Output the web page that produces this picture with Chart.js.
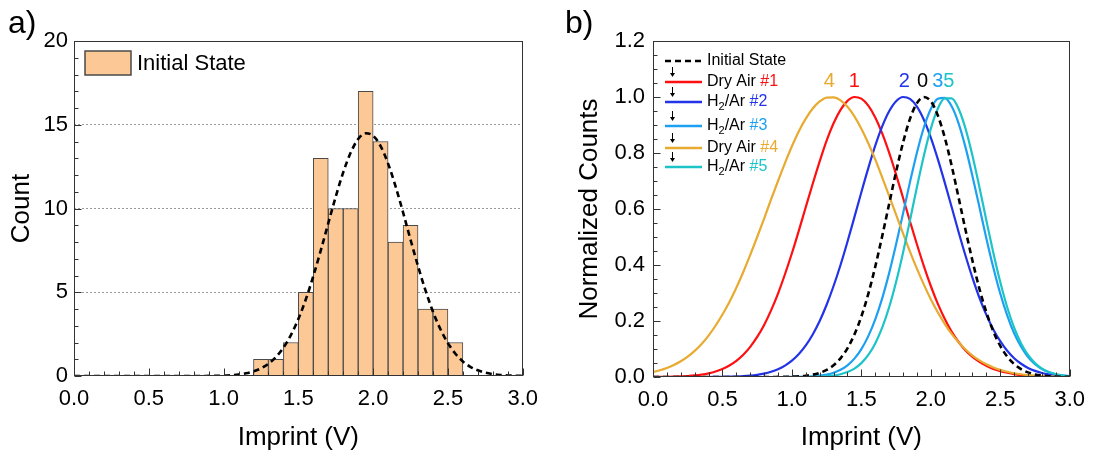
<!DOCTYPE html>
<html><head><meta charset="utf-8">
<script src="https://cdn.jsdelivr.net/npm/chart.js@4.4.1/dist/chart.umd.min.js"></script>
<style>
html,body{margin:0;padding:0;background:#fff;width:1095px;height:460px;overflow:hidden;font-family:'Liberation Sans',Arial,sans-serif;}
#wa{position:absolute;left:0;top:0;width:548px;height:460px;}
#wb{position:absolute;left:548px;top:0;width:547px;height:460px;}
.pl{position:absolute;font-size:32px;color:#000;line-height:1;}
</style></head><body>
<div id="wa"><canvas id="ca" width="548" height="460"></canvas></div>
<div id="wb"><canvas id="cb" width="547" height="460"></canvas></div>
<div class="pl" style="left:8px;top:6px">a)</div>
<div class="pl" style="left:565px;top:6px">b)</div>
<script>
// ---------- data ----------
const binCenters = [1.25,1.35,1.45,1.55,1.65,1.75,1.85,1.95,2.05,2.15,2.25,2.35,2.45,2.55];
const counts     = [1,1,2,5,13,10,10,17,14,8,9,4,4,2];

const voltages = [0,0.05,0.1,0.15,0.2,0.25,0.3,0.35,0.4,0.45,0.5,0.55,0.6,0.65,0.7,0.75,0.8,0.85,0.9,0.95,
  1,1.05,1.1,1.15,1.2,1.25,1.3,1.35,1.4,1.45,1.5,1.55,1.6,1.65,1.7,1.75,1.8,1.85,1.9,1.95,
  2,2.05,2.1,2.15,2.2,2.25,2.3,2.35,2.4,2.45,2.5,2.55,2.6,2.65,2.7,2.75,2.8,2.85,2.9,2.95,3];

const fitCounts = [0,0,0,0,0,0,0,0,0,0,0,0,0,0,0,0,0,0,0.007,0.013,
  0.026,0.05,0.091,0.161,0.276,0.457,0.731,1.13,1.69,2.44,3.40,4.58,5.96,7.50,9.12,10.71,12.16,13.34,14.15,14.49,
  14.34,13.72,12.68,11.32,9.77,8.14,6.56,5.11,3.84,2.79,1.96,1.33,0.87,0.55,0.34,0.20,0.115,0.063,0.034,0.017,0.009];

const initialState = [0,0,0,0,0,0,0,0,0,0,0,0,0,0,0,0,0,0,0.0003,0.0006,
  0.0012,0.0023,0.0045,0.0083,0.0148,0.0253,0.0419,0.0667,0.1025,0.152,0.216,0.297,0.394,0.503,0.618,0.733,0.837,0.922,0.978,1.0,
  0.985,0.935,0.856,0.755,0.641,0.525,0.415,0.315,0.231,0.163,0.111,0.073,0.046,0.028,0.0165,0.0093,0.0051,0.0027,0.0014,0.0007,0.0003];

const dryAir1 = [0.0003,0.0005,0.0008,0.0013,0.0022,0.0035,0.0056,0.0086,0.0131,0.0195,0.0286,0.041,0.0577,0.0796,0.1077,0.143,0.186,0.238,0.298,0.367,
  0.442,0.523,0.607,0.69,0.77,0.844,0.906,0.954,0.986,1.0,0.994,0.969,0.927,0.87,0.801,0.723,0.64,0.556,0.474,0.396,
  0.325,0.262,0.208,0.162,0.125,0.095,0.072,0.054,0.040,0.029,0.021,0.015,0.010,0.0068,0.0045,0.003,0.002,0.0012,0.0008,0.0005,0.0003];

const h2Ar2 = [0,0,0,0,0,0,0,0,0,0.0003,0.0006,0.001,0.0018,0.003,0.0049,0.0078,0.0121,0.0186,0.0278,0.0408,
  0.0585,0.0822,0.113,0.152,0.2,0.258,0.325,0.4,0.483,0.571,0.66,0.746,0.826,0.895,0.949,0.985,1.0,0.993,0.966,0.919,
  0.855,0.779,0.695,0.607,0.518,0.433,0.354,0.283,0.222,0.17,0.128,0.0937,0.0672,0.0473,0.0325,0.0219,0.0144,0.0093,0.0059,0.0036,0.0022];

const h2Ar3 = [0,0,0,0,0,0,0,0,0,0,0,0,0,0,0,0,0,0,0,0,
  0.0003,0.0007,0.0014,0.0027,0.0049,0.0089,0.0154,0.0259,0.0419,0.0657,0.0995,0.146,0.206,0.281,0.371,0.474,0.584,0.696,0.801,0.891,
  0.957,0.994,0.997,0.967,0.906,0.82,0.717,0.607,0.495,0.391,0.298,0.22,0.156,0.108,0.0716,0.046,0.0286,0.0171,0.0099,0.0056,0.003];

const dryAir4 = [0.0175,0.0239,0.0321,0.0427,0.0561,0.0729,0.0934,0.118,0.148,0.183,0.223,0.268,0.319,0.375,0.436,0.5,0.566,0.634,0.7,0.764,
  0.824,0.878,0.923,0.959,0.984,0.998,0.999,0.988,0.965,0.931,0.887,0.835,0.777,0.713,0.647,0.58,0.513,0.448,0.387,0.33,
  0.278,0.231,0.19,0.154,0.124,0.098,0.0766,0.0592,0.0452,0.034,0.0253,0.0186,0.0135,0.0097,0.0069,0.0048,0.0033,0.0023,0.0015,0.001,0.0007];

const h2Ar5 = [0,0,0,0,0,0,0,0,0,0,0,0,0,0,0,0,0,0,0,0,
  0,0,0,0.0007,0.0014,0.0028,0.0053,0.0099,0.0176,0.0301,0.0496,0.0787,0.12,0.176,0.249,0.339,0.444,0.559,0.678,0.79,
  0.887,0.958,0.995,0.995,0.958,0.887,0.79,0.678,0.559,0.444,0.339,0.249,0.176,0.12,0.0787,0.0496,0.0301,0.0176,0.0099,0.0053,0.0028];

const seriesNames = ['Initial State','Dry Air','H2/Ar','H2/Ar','Dry Air','H2/Ar'];
const seriesTags  = ['','#1','#2','#3','#4','#5'];
const peakLabels  = ['0','1','2','3','4','5'];
const peakLabelX  = [1.94,1.45,1.81,2.05,1.27,2.13];
const histLegend  = 'Initial State';
const xTickLabels = ['0.0','0.5','1.0','1.5','2.0','2.5','3.0'];

// ---------- styling ----------
const F = "'Liberation Sans', Arial, sans-serif";
Chart.defaults.font.family = F;
Chart.defaults.color = '#000';
const seriesColors = ['#000000','#FF1010','#2233E8','#1EA0F2','#E8AA30','#1CC4C8'];
const AX = '#333333';

function pts(arr){ return voltages.map((v,i)=>({x:v,y:arr[i]})); }

function drawFrameTicks(chart, xMinor, xMajor, yMinor, yMajor){
  const {ctx, chartArea:a, scales:{x,y}} = chart;
  ctx.save();
  ctx.strokeStyle = AX; ctx.lineWidth = 1;
  const L = Math.round(a.left)+0.5, R = Math.round(a.right)-0.5, T = Math.round(a.top)+0.5, B = Math.round(a.bottom)-0.5;
  ctx.strokeRect(L, T, R-L, B-T);
  ctx.beginPath();
  let n = Math.round((x.max-x.min)/xMinor);
  for(let i=0;i<=n;i++){
    const v = x.min + i*xMinor;
    const r = v/xMajor; const maj = Math.abs(r-Math.round(r))<1e-6;
    const px = Math.round(x.getPixelForValue(v))+0.5;
    ctx.moveTo(px, B); ctx.lineTo(px, B-(maj?7:4));
  }
  n = Math.round((y.max-y.min)/yMinor);
  for(let i=0;i<=n;i++){
    const v = y.min + i*yMinor;
    const r = v/yMajor; const maj = Math.abs(r-Math.round(r))<1e-6;
    const py = Math.round(y.getPixelForValue(v))+0.5;
    ctx.moveTo(L, py); ctx.lineTo(L+(maj?7:4), py);
  }
  ctx.stroke();
  ctx.restore();
}

function drawRich(ctx, x, y, text, size){
  const m = text.match(/^H2(.*)$/);
  ctx.font = size+'px '+F;
  if(!m){ ctx.fillText(text, x, y); return x + ctx.measureText(text).width; }
  ctx.fillText('H', x, y); x += ctx.measureText('H').width;
  ctx.font = Math.round(size*0.68)+'px '+F;
  ctx.fillText('2', x, y+size*0.3); x += ctx.measureText('2').width;
  ctx.font = size+'px '+F;
  ctx.fillText(m[1], x, y); return x + ctx.measureText(m[1]).width;
}

// ---------- chart a ----------
new Chart(document.getElementById('ca'), {
  type:'bar',
  data:{datasets:[
    {type:'line', label:'fit', data:pts(fitCounts), borderColor:'#000', borderWidth:2.6, borderDash:[6,4],
     pointRadius:0, tension:0.4, cubicInterpolationMode:'monotone', order:0},
    {type:'bar', label:histLegend, data:binCenters.map((c,i)=>({x:c,y:counts[i]})),
     backgroundColor:'#FBC896', borderColor:'#4a4a4a', borderWidth:1, barPercentage:1, categoryPercentage:1, order:1}
  ]},
  options:{
    responsive:false, animation:false, events:[],
    layout:{padding:{left:0,top:41,right:21,bottom:0}},
    plugins:{legend:{display:false}, tooltip:{enabled:false}},
    scales:{
      x:{type:'linear', min:0, max:3, offset:false,
        ticks:{stepSize:0.5, autoSkip:false, maxRotation:0, padding:10, font:{size:22}, color:'#000',
               callback:(v)=>{const i=Math.round(v/0.5); return Math.abs(v-i*0.5)<1e-6 ? xTickLabels[i] : '';}},
        grid:{display:false, drawTicks:false}, border:{display:false},
        title:{display:true, text:'Imprint (V)', font:{size:26}, color:'#000', padding:{top:0,bottom:7}},
        afterFit(s){ s.height = 84; }},
      y:{type:'linear', min:0, max:20,
        ticks:{stepSize:5, padding:6, font:{size:22}, color:'#000'},
        grid:{drawTicks:false, lineWidth:1, color:(c)=> (c.tick && c.tick.value>0 && c.tick.value<20) ? '#9a9a9a' : 'rgba(0,0,0,0)'},
        border:{display:false, dash:[2,2]},
        title:{display:true, text:'Count', font:{size:26}, color:'#000', padding:{top:6}},
        afterFit(s){ s.width = 74; }}
    }
  },
  plugins:[{id:'decorA', afterDatasetsDraw(chart){
    drawFrameTicks(chart, 0.1, 0.5, 1, 5);
    const ctx = chart.ctx; ctx.save();
    ctx.fillStyle = '#FBC896'; ctx.strokeStyle = '#4a4a4a'; ctx.lineWidth = 1.5;
    ctx.fillRect(85,51,46,24); ctx.strokeRect(85,51,46,24);
    ctx.fillStyle = '#000'; ctx.textBaseline = 'middle';
    ctx.font = '22px '+F; ctx.fillText(histLegend, 137, 64);
    ctx.restore();
  }}]
});

// ---------- chart b ----------
const curves = [initialState, dryAir1, h2Ar2, h2Ar3, dryAir4, h2Ar5];
new Chart(document.getElementById('cb'), {
  type:'line',
  data:{datasets: curves.map((arr,i)=>({
    label: seriesNames[i]+' '+seriesTags[i], data: pts(arr), borderColor: seriesColors[i],
    borderWidth: i===0 ? 2.6 : 2.2, borderDash: i===0 ? [6,4] : [],
    pointRadius:0, tension:0.4, cubicInterpolationMode:'monotone', fill:false, order: i===0 ? 0 : 7-i
  }))},
  options:{
    responsive:false, animation:false, events:[],
    layout:{padding:{left:0,top:41,right:23,bottom:0}},
    plugins:{legend:{display:false}, tooltip:{enabled:false}},
    scales:{
      x:{type:'linear', min:0, max:3,
        ticks:{stepSize:0.5, autoSkip:false, maxRotation:0, padding:10, font:{size:22}, color:'#000',
               callback:(v)=>{const i=Math.round(v/0.5); return Math.abs(v-i*0.5)<1e-6 ? xTickLabels[i] : '';}},
        grid:{display:false, drawTicks:false}, border:{display:false},
        title:{display:true, text:'Imprint (V)', font:{size:26}, color:'#000', padding:{top:0,bottom:7}},
        afterFit(s){ s.height = 83; }},
      y:{type:'linear', min:0, max:1.2,
        ticks:{stepSize:0.2, padding:8, font:{size:22}, color:'#000', callback:(v)=>Number(v).toFixed(1)},
        grid:{display:false, drawTicks:false}, border:{display:false},
        title:{display:true, text:'Normalized Counts', font:{size:26}, color:'#000', padding:{top:26}},
        afterFit(s){ s.width = 105; }}
    }
  },
  plugins:[{id:'decorB', afterDatasetsDraw(chart){
    drawFrameTicks(chart, 0.1, 0.5, 0.05, 0.2);
    const ctx = chart.ctx; const {x, y} = chart.scales;
    ctx.save();
    // peak labels
    ctx.textAlign = 'center'; ctx.textBaseline = 'middle'; ctx.font = '20px '+F;
    const ly = y.getPixelForValue(1.0) - 16;
    peakLabels.forEach((t,i)=>{ ctx.fillStyle = seriesColors[i]; ctx.fillText(t, x.getPixelForValue(peakLabelX[i]), ly); });
    // legend
    const rows = [61,82,102,126,148,167];
    ctx.textAlign = 'left';
    rows.forEach((ry,i)=>{
      ctx.strokeStyle = seriesColors[i]; ctx.lineWidth = 2.4;
      ctx.setLineDash(i===0 ? [6,4] : []);
      ctx.beginPath(); ctx.moveTo(117, ry); ctx.lineTo(154, ry); ctx.stroke();
      ctx.setLineDash([]);
      ctx.fillStyle = '#000';
      let xx = drawRich(ctx, 159, ry, seriesNames[i], 16);
      if(seriesTags[i]){
        ctx.font = '16px '+F; ctx.fillStyle = seriesColors[i];
        ctx.fillText(' '+seriesTags[i], xx, ry);
      }
      if(i>0){
        ctx.strokeStyle = '#000'; ctx.fillStyle = '#000'; ctx.lineWidth = 1;
        const top = ry-15, bot = ry-5;
        ctx.beginPath(); ctx.moveTo(124.5, top); ctx.lineTo(124.5, bot-3); ctx.stroke();
        ctx.beginPath(); ctx.moveTo(122, bot-4); ctx.lineTo(127, bot-4); ctx.lineTo(124.5, bot); ctx.closePath(); ctx.fill();
      }
    });
    ctx.restore();
  }}]
});
</script>
</body></html>
